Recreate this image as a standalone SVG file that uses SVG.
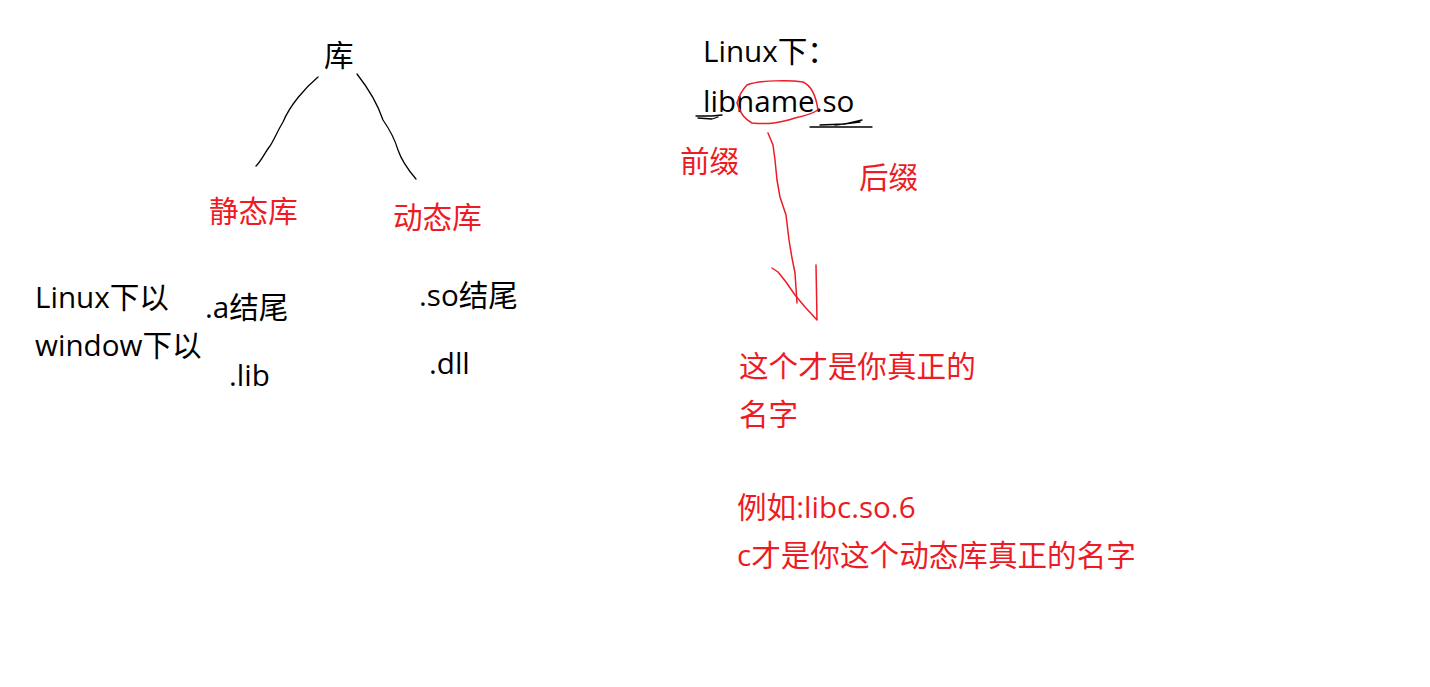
<svg xmlns="http://www.w3.org/2000/svg" width="1430" height="687" viewBox="0 0 1430 687">
<style>
text{font-family:"Open Sans","Noto Sans CJK SC",sans-serif;font-size:29.6px;}
.k{fill:#000}
.r{fill:#ED1C24}
.pk{fill:none;stroke:#000;stroke-width:1.3;stroke-linecap:round;stroke-linejoin:round}
.pr{fill:none;stroke:#ED1C24;stroke-width:1.5;stroke-linecap:round;stroke-linejoin:round}
</style>
<rect width="1430" height="687" fill="#fff"/>
<g id="root"><text class="k" x="324" y="66">库</text></g>
<g id="static"><text class="r" x="209" y="222">静态库</text></g>
<g id="dynamic"><text class="r" x="393" y="228">动态库</text></g>
<g id="labels-left">
<text class="k" x="35" y="308">Linux下以</text>
<text class="k" x="35" y="356">window下以</text>
</g>
<g id="static-ext">
<text class="k" x="205" y="318">.a结尾</text>
<text class="k" x="229" y="386">.lib</text>
</g>
<g id="dynamic-ext">
<text class="k" x="419" y="306">.so结尾</text>
<text class="k" x="429" y="374">.dll</text>
</g>
<g id="linux-name">
<text class="k" x="703" y="62">Linux下：</text>
<text class="k" x="703" y="112">libname.so</text>
</g>
<g id="prefix"><text class="r" x="680" y="172">前缀</text></g>
<g id="suffix"><text class="r" x="859" y="188">后缀</text></g>
<g id="realname">
<text class="r" x="739" y="377">这个才是你真正的</text>
<text class="r" x="739" y="425">名字</text>
</g>
<g id="example">
<text class="r" x="737" y="518">例如:libc.so.6</text>
<text class="r" x="737" y="566">c才是你这个动态库真正的名字</text>
</g>
<g id="connectors">
<path class="pk" d="M318,77 C305,88 290,105 283,122 C277,132 274,140 270,146 C265,152 262,160 256,166"/>
<path class="pk" d="M357,74 C368,88 378,105 383,120 C390,130 395,140 398,150 C402,162 410,172 416,179"/>
<path class="pk" d="M696,116 L712,116 L722,115 M698,118 L712,119 L718,117"/>
<path class="pk" d="M810,127 L872,127 M820,125 L845,124 L858,121 L862,120 M835,125 L860,122"/>
<path class="pr" d="M747,85 C760,80 790,80 803,82 C812,86 816,96 818,110 C812,114 804,116 795,118 C782,122 770,125 752,123 C744,119 739,110 737,103 C739,96 742,90 747,85 Z"/>
<path class="pr" d="M768,133 L773,145 L775,160 L777,180 L780,197 L786,215 L789,240 L792,258 L795,273 L797,303"/>
<path class="pr" d="M772,268 L778,272 L786,282 L795,295 L805,307 L817,320 L816,265"/>
</g>
</svg>
